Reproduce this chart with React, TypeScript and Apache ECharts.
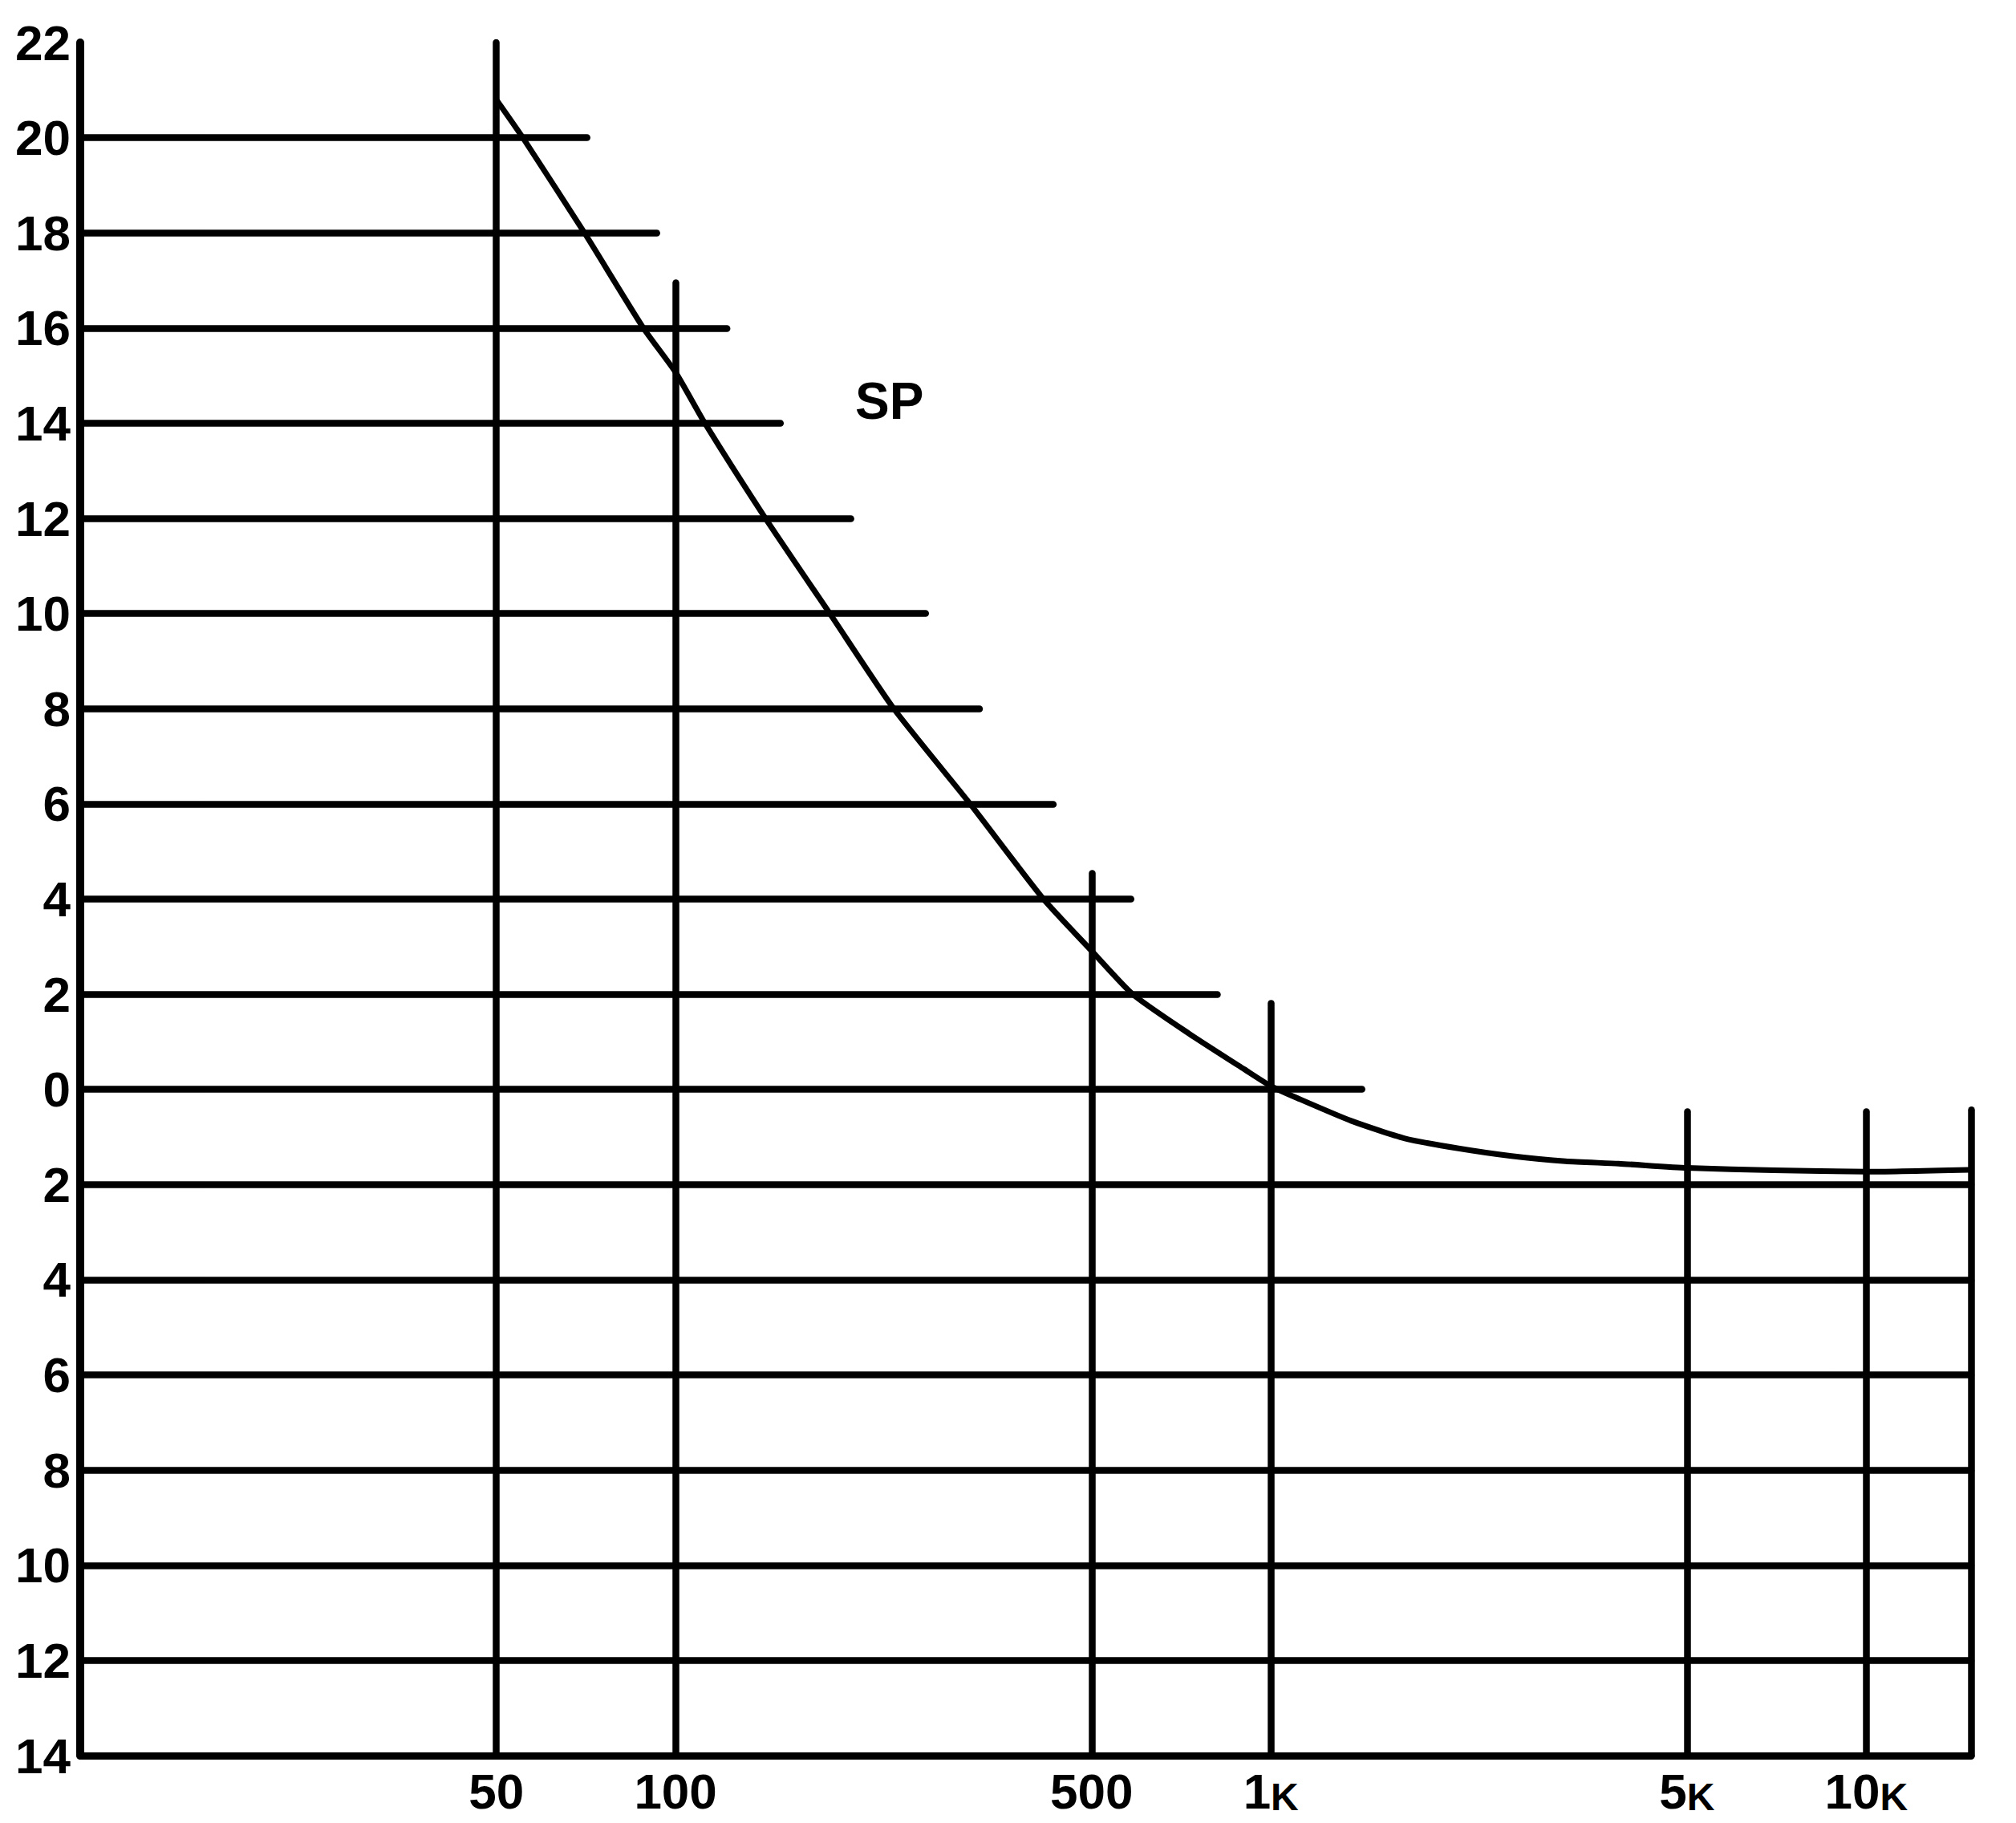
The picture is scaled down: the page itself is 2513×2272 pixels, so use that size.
import React, { useEffect, useRef } from 'react';
import * as echarts from 'echarts';

// ---- data ----
const xMin = 10;
const xMax = 15000;
const yMin = -14;
const yMax = 22;

// horizontal lines: level and the frequency where each one stops
const hLevels = [20, 18, 16, 14, 12, 10, 8, 6, 4, 2, 0, -2, -4, -6, -8, -10, -12];
const hEnds = [71, 93, 122, 150, 197, 263, 324, 431, 582, 813, 1422, 15000, 15000, 15000, 15000, 15000, 15000];

// vertical lines: frequency and the level where each one stops
const vFreqs = [50, 100, 500, 1000, 5000, 10000, 15000];
const vTops = [22, 16.95, 4.54, 1.81, -0.47, -0.47, -0.43];

// x labels
const xTickValues = [50, 100, 500, 1000, 5000, 10000];
const xTickLabels = ['50', '100', '500', '1K', '5K', '10K'];

// response curve
const curveFreq = [50, 55.4, 70.3, 88.3, 100, 112, 141.6, 181.6, 232.6, 312.5, 415, 500, 586, 729, 903, 1000, 1111, 1364, 1679, 2066, 2536, 3124, 3838, 5000, 7000, 10000, 14860];
const curveVal = [20.8, 20, 18, 16, 15.07, 14, 12, 10, 8, 6, 4, 2.91, 2, 1.17, 0.42, 0.07, -0.19, -0.66, -1.03, -1.24, -1.4, -1.51, -1.56, -1.65, -1.7, -1.73, -1.69];

// annotation
const noteText = 'SP';
const noteFreq = 228.7;
const noteVal = 14.46;

const FONT = "'Liberation Sans', Arial, Helvetica, sans-serif";

export default function App() {
  const ref = useRef<HTMLDivElement>(null);

  useEffect(() => {
    document.body.style.margin = '0';
    if (!ref.current) return;
    const chart = echarts.init(ref.current, undefined, { renderer: 'svg' });

    const hData = hLevels.map((lv, i) => ({ coords: [[xMin, lv], [hEnds[i], lv]] }));
    const vData = vFreqs.map((f, i) => ({ coords: [[f, yMin], [f, vTops[i]]] }));

    chart.setOption({
      animation: false,
      backgroundColor: '#ffffff',
      grid: { left: 100, right: 56, top: 53, bottom: 84, containLabel: false },
      xAxis: {
        type: 'log',
        logBase: 10,
        min: xMin,
        max: xMax,
        axisLine: { show: true, onZero: false, lineStyle: { color: '#000', width: 9 } },
        axisTick: { show: false },
        axisLabel: { show: false },
        splitLine: { show: false },
        minorTick: { show: false },
        minorSplitLine: { show: false },
      },
      yAxis: {
        type: 'value',
        min: yMin,
        max: yMax,
        interval: 2,
        axisLine: { show: true, onZero: false, lineStyle: { color: '#000', width: 10 } },
        axisTick: { show: false },
        splitLine: { show: false },
        axisLabel: {
          show: true,
          margin: 12,
          color: '#000',
          fontFamily: FONT,
          fontWeight: 'bold',
          fontSize: 62,
          formatter: (v: number) => String(Math.abs(v)),
        },
      },
      series: [
        {
          type: 'lines',
          coordinateSystem: 'cartesian2d',
          silent: true,
          z: 2,
          data: hData,
          lineStyle: { color: '#000', width: 8.5, opacity: 1, cap: 'round', curveness: 0 },
        },
        {
          type: 'lines',
          coordinateSystem: 'cartesian2d',
          silent: true,
          z: 2,
          data: vData,
          lineStyle: { color: '#000', width: 8.5, opacity: 1, cap: 'round', curveness: 0 },
        },
        {
          type: 'line',
          silent: true,
          z: 4,
          smooth: 0.2,
          showSymbol: false,
          symbol: 'none',
          data: curveFreq.map((f, i) => [f, curveVal[i]]),
          lineStyle: { color: '#000', width: 7, cap: 'round', join: 'round' },
        },
        {
          type: 'scatter',
          silent: true,
          z: 5,
          symbolSize: 0,
          itemStyle: { opacity: 1, color: '#000' },
          data: xTickValues.map((f, i) => ({ value: [f, yMin], name: xTickLabels[i] })),
          label: {
            show: true,
            position: 'bottom',
            distance: 13,
            formatter: (p: any) => {
              const s: string = p.name;
              if (s.endsWith('K')) return `{n|${s.slice(0, -1)}}{k|K}`;
              return `{n|${s}}`;
            },
            rich: {
              n: { fontFamily: FONT, fontWeight: 'bold', fontSize: 62, lineHeight: 62, color: '#000', verticalAlign: 'bottom' },
              k: { fontFamily: FONT, fontWeight: 'bold', fontSize: 48, lineHeight: 54, color: '#000', verticalAlign: 'bottom' },
            },
          },
        },
        {
          type: 'scatter',
          silent: true,
          z: 5,
          symbolSize: 0,
          itemStyle: { opacity: 1, color: '#000' },
          data: [{ value: [noteFreq, noteVal], name: noteText }],
          label: {
            show: true,
            position: 'inside',
            formatter: (p: any) => p.name,
            color: '#000',
            fontFamily: FONT,
            fontWeight: 'bold',
            fontSize: 64,
          },
        },
      ],
    });

    return () => chart.dispose();
  }, []);

  return <div ref={ref} style={{ width: 2513, height: 2272 }} />;
}
